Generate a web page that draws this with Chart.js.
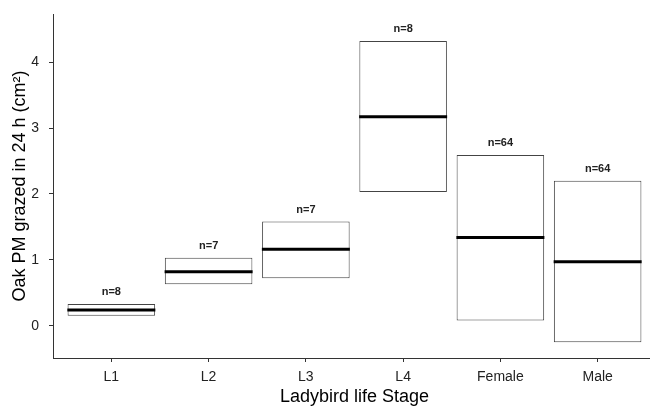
<!DOCTYPE html>
<html>
<head>
<meta charset="utf-8">
<script src="https://cdn.jsdelivr.net/npm/chart.js@4"></script>
<style>
  html, body { margin: 0; padding: 0; background: #fff; overflow: hidden; }
  #wrap { width: 656px; height: 408px; }
</style>
</head>
<body>
<div id="wrap"><canvas id="grazeChart"></canvas></div>
<script>
const stages = ['L1', 'L2', 'L3', 'L4', 'Female', 'Male'];
const boxLow = [0.15, 0.63, 0.72, 2.03, 0.08, -0.25];
const boxHigh = [0.33, 1.03, 1.58, 4.32, 2.59, 2.20];
const medians = [0.24, 0.82, 1.16, 3.17, 1.34, 0.97];
const counts = ['n=8', 'n=7', 'n=7', 'n=8', 'n=64', 'n=64'];
const yTicks = [0, 1, 2, 3, 4];

const font = 'Arial, "Liberation Sans", sans-serif';

// write the n= labels above each box
const countLabels = {
    id: 'countLabels',
    afterDatasetsDraw(chart) {
        const ctx = chart.ctx;
        const meta = chart.getDatasetMeta(0);
        ctx.save();
        ctx.font = 'bold 11px ' + font;
        ctx.fillStyle = '#222';
        ctx.textAlign = 'center';
        ctx.textBaseline = 'middle';
        meta.data.forEach((bar, i) => {
            ctx.fillText(counts[i], bar.x, bar.y - 12);
        });
        ctx.restore();
    }
};

const ctx = document.getElementById('grazeChart').getContext('2d');
new Chart(ctx, {
    data: {
        datasets: [{
            type: 'bar',
            data: stages.map((s, i) => ({ x: i + 1, y: [boxLow[i], boxHigh[i]] })),
            backgroundColor: '#fff',
            borderColor: '#444',
            borderWidth: 1,
            borderSkipped: false,
            barPercentage: 0.9,
            categoryPercentage: 1,
            order: 1
        }, {
            type: 'scatter',
            data: stages.map((s, i) => ({ x: i + 1, y: medians[i] })),
            pointStyle: 'line',
            pointRadius: 44,
            pointHoverRadius: 44,
            borderColor: '#000',
            pointBorderWidth: 3,
            order: 0
        }]
    },
    options: {
        responsive: true,
        maintainAspectRatio: false,
        animation: false,
        layout: { autoPadding: false, padding: { top: 14, right: 0, left: 0, bottom: 0 } },
        plugins: {
            legend: { display: false },
            tooltip: { enabled: false }
        },
        scales: {
            x: {
                type: 'linear',
                offset: false,
                min: 0.4,
                max: 6.6,
                afterBuildTicks: scale => { scale.ticks = stages.map((s, i) => ({ value: i + 1 })); },
                afterFit: scale => { scale.height = 50; scale.paddingLeft = 0; scale.paddingRight = 0; },
                grid: { offset: false, drawOnChartArea: false, drawTicks: true, tickLength: 4, color: '#333' },
                border: { color: '#333', width: 1 },
                ticks: {
                    callback: v => stages[v - 1],
                    color: '#222',
                    font: { family: font, size: 14 },
                    padding: 7,
                    maxRotation: 0
                },
                title: {
                    display: true,
                    text: 'Ladybird life Stage',
                    color: '#000',
                    font: { family: font, size: 18 },
                    padding: { top: 0, bottom: 0 }
                }
            },
            y: {
                min: -0.49,
                max: 4.73,
                afterBuildTicks: scale => { scale.ticks = yTicks.map(v => ({ value: v })); },
                afterFit: scale => { scale.width = 53; scale.paddingTop = 0; scale.paddingBottom = 0; },
                grid: { drawOnChartArea: false, drawTicks: true, tickLength: 4, color: '#333' },
                border: { color: '#333', width: 1 },
                ticks: {
                    color: '#222',
                    font: { family: font, size: 14 },
                    padding: 10
                },
                title: {
                    display: true,
                    text: 'Oak PM grazed in 24 h (cm²)',
                    color: '#000',
                    font: { family: font, size: 18 },
                    padding: { top: 9, bottom: 0 }
                }
            }
        }
    },
    plugins: [countLabels]
});
</script>
</body>
</html>
